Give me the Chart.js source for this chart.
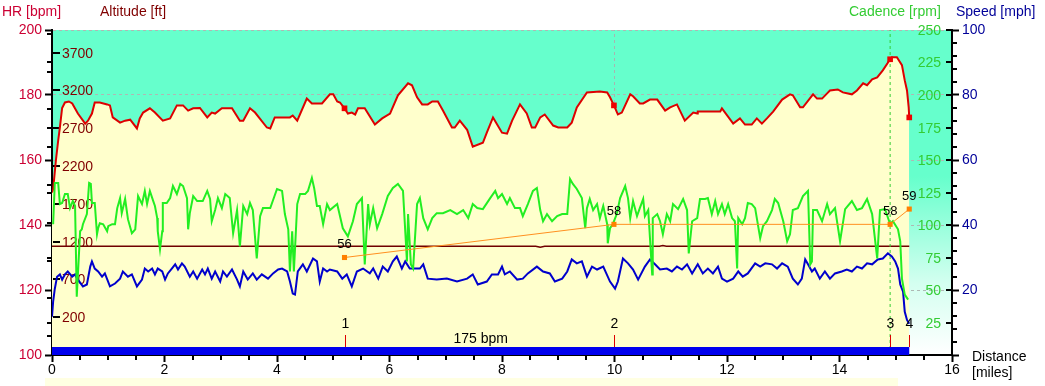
<!DOCTYPE html>
<html><head><meta charset="utf-8">
<script src="https://cdn.jsdelivr.net/npm/chart.js@4.4.1/dist/chart.umd.min.js"></script>
<style>html,body{margin:0;padding:0;background:#fff;overflow:hidden}canvas{display:block}</style>
</head><body>
<canvas id="c" width="1045" height="386" style="width:1045px;height:386px"></canvas>
<script>
// ---------------- DATA ----------------
const hrDist = [0,0.02,0.07,0.11,0.14,0.18,0.23,0.30,0.36,0.46,
0.59,0.64,0.71,0.76,0.85,0.98,1.03,1.08,1.21,1.30,
1.39,1.51,1.56,1.62,1.74,1.83,1.97,2.10,2.22,2.33,
2.42,2.51,2.63,2.76,2.84,2.90,3.02,3.20,3.34,3.40,
3.52,3.61,3.82,3.88,3.96,4.23,4.28,4.36,4.53,4.62,
4.80,4.94,5.00,5.07,5.12,5.20,5.26,5.33,5.39,5.44,
5.56,5.74,5.87,6.01,6.04,6.15,6.33,6.40,6.49,6.58,
6.68,6.76,6.86,6.95,7.11,7.16,7.25,7.38,7.48,7.66,
7.73,7.84,8.00,8.09,8.18,8.32,8.44,8.53,8.59,8.68,
8.76,8.91,9.00,9.16,9.24,9.33,9.51,9.74,9.87,9.92,
9.99,10.06,10.13,10.28,10.33,10.45,10.51,10.63,10.76,10.90,
10.99,11.11,11.25,11.40,11.47,11.48,11.88,11.91,12.11,12.23,
12.32,12.44,12.53,12.62,12.71,12.82,12.98,13.12,13.17,13.30,
13.35,13.53,13.60,13.69,13.78,13.83,13.97,14.06,14.22,14.31,
14.42,14.49,14.58,14.67,14.77,14.90,14.93,15.02,15.11,15.16,
15.20,15.23,15.24];
const hrBpm = [150,151,160,166,170,176,177.7,178,177.4,174.3,
171.2,172.1,174.3,177.7,177.7,177.1,176.8,173.1,171.5,172.1,
172.4,169.7,172.8,174.6,175.9,174.6,172.1,172.8,176.8,176.8,
175.2,175.9,176,173.1,174.6,174.3,175.9,175.9,172.1,172.1,
175.9,174.6,170,169.7,173.1,173.1,173.7,172.1,178.9,177.4,
177.4,180.2,180.2,178,177.7,175.9,174.3,174.6,174,175.9,
175.9,170.9,172.8,174.3,175.5,179.9,183.6,183,179.3,177.1,
177.1,178,178,175.2,170,170,172.1,169.3,164.1,165.3,
168.4,173.1,168.4,168.1,172.1,177.1,174.3,170,170,173.1,
174,170.6,170,170,171.5,176.2,180.8,181.1,180.8,179.3,
176.8,174,174.6,180.2,179.6,177.4,177.4,178.6,178.6,175.2,
176.2,177.1,172.1,174.6,174.3,174.9,174.9,175.9,171.2,172.8,
170.9,170.9,172.8,171.2,172.8,174.9,178.6,180.2,179.9,176.2,
176.2,180.2,178.9,178.9,180.5,181.4,181.7,180.8,180.2,181.4,
183.6,183,184.8,185.4,187.6,191,191.6,191.6,189.2,184.5,
181.4,176.2,173.1];

const cadDist = [0.02,0.05,0.11,0.14,0.18,0.23,0.28,0.32,0.37,0.41,
0.44,0.50,0.53,0.55,0.62,0.66,0.69,0.71,0.76,0.80,
0.82,0.85,0.91,0.98,1.00,1.07,1.12,1.16,1.21,1.24,
1.30,1.35,1.42,1.48,1.53,1.60,1.65,1.69,1.74,1.80,
1.83,1.87,1.88,1.92,1.96,1.97,2.04,2.10,2.15,2.22,
2.28,2.33,2.40,2.42,2.45,2.51,2.58,2.68,2.76,2.81,
2.84,2.90,2.95,3.02,3.08,3.16,3.22,3.29,3.34,3.40,
3.47,3.52,3.57,3.64,3.70,3.75,3.88,4.00,4.09,4.14,
4.20,4.23,4.27,4.30,4.36,4.41,4.50,4.55,4.62,4.66,
4.71,4.76,4.82,4.89,4.94,5.07,5.17,5.26,5.35,5.42,
5.51,5.56,5.62,5.65,5.71,5.78,5.87,5.97,6.06,6.15,
6.24,6.31,6.33,6.38,6.42,6.49,6.54,6.60,6.68,6.76,
6.84,6.95,7.08,7.20,7.31,7.40,7.48,7.56,7.66,7.79,
7.88,7.93,8.00,8.09,8.14,8.23,8.32,8.37,8.46,8.55,
8.62,8.68,8.73,8.80,8.89,8.98,9.07,9.16,9.21,9.26,
9.33,9.42,9.48,9.51,9.56,9.62,9.69,9.74,9.80,9.87,
9.88,9.92,9.97,10.04,10.10,10.19,10.24,10.28,10.33,10.40,
10.45,10.51,10.54,10.60,10.67,10.68,10.76,10.81,10.86,10.93,
10.99,11.04,11.13,11.22,11.29,11.32,11.38,11.47,11.52,11.61,
11.66,11.73,11.79,11.84,11.91,11.96,12.02,12.09,12.14,12.18,
12.20,12.27,12.32,12.37,12.44,12.50,12.59,12.64,12.71,12.80,
12.85,12.91,13.00,13.07,13.12,13.17,13.26,13.35,13.44,13.48,
13.51,13.53,13.60,13.69,13.78,13.83,13.92,14.01,14.10,14.22,
14.31,14.40,14.49,14.58,14.67,14.72,14.81,14.90,14.95,15.04,
15.08,15.11,15.16,15.22];
const cadRpm = [100.6,132.4,132.4,116.1,116.9,123.8,123.8,113.0,118.4,114.6,
44.9,95.2,96.7,100.6,108.4,132.4,131.6,116.9,116.9,92.9,
97.5,101.4,100.6,95.2,99.1,100.6,100.6,113.0,120.7,109.1,
120.0,104.5,93.7,96.7,122.3,116.1,126.2,116.1,126.2,118.4,
114.6,105.3,95.2,81.3,95.2,116.9,116.9,120.7,130.0,123.8,
131.6,130.0,120.7,96.7,109.1,122.3,118.4,118.4,126.2,120.0,
102.9,111.5,120.7,113.0,123.8,120.7,93.7,111.5,83.6,114.6,
108.4,116.9,111.5,74.3,106.8,113.0,113.0,127.7,126.2,108.4,
96.7,64.2,95.2,64.2,116.1,123.8,123.8,126.2,136.2,128.5,
114.6,114.6,100.6,116.1,111.5,116.1,97.5,91.3,102.9,116.1,
120.7,69.7,116.1,100.6,113.0,97.5,108.4,122.3,128.5,131.6,
126.2,72.0,108.4,69.7,66.6,116.1,120.7,105.3,96.7,105.3,
109.1,109.1,111.5,108.4,111.5,105.3,116.1,113.0,112.2,120.7,
126.2,120.7,123.8,116.1,120.7,113.0,113.0,106.8,116.1,126.2,
128.5,111.5,102.9,108.4,102.9,106.8,108.4,108.4,135.4,131.6,
127.7,120.7,97.5,113.0,120.0,111.5,116.1,105.3,114.6,100.6,
85.9,97.5,100.6,108.4,120.7,130.0,120.7,105.3,118.4,106.8,
113.0,120.0,106.8,111.5,61.9,105.3,108.4,102.9,92.9,108.4,
102.9,116.1,112.2,120.0,111.5,78.2,102.9,105.3,120.0,120.0,
120.7,108.4,118.4,108.4,116.1,108.4,116.1,105.3,102.9,66.6,
105.3,100.6,105.3,116.9,116.1,113.0,89.8,99.1,102.9,111.5,
120.0,116.9,102.9,87.5,92.9,111.5,113.0,122.3,126.2,69.7,
72.0,111.5,111.5,102.9,116.1,108.4,113.0,87.5,112.2,118.4,
111.5,113.0,120.0,108.4,74.3,111.5,112.2,100.6,102.9,96.7,
87.5,58.8,46.4,42.6];

const spdDist = [0,0.02,0.05,0.09,0.14,0.18,0.23,0.28,0.36,0.41,
0.46,0.55,0.62,0.68,0.71,0.76,0.82,0.89,0.94,1.03,
1.12,1.21,1.26,1.35,1.42,1.51,1.60,1.65,1.71,1.78,
1.83,1.88,1.96,2.01,2.06,2.13,2.19,2.24,2.31,2.36,
2.45,2.51,2.58,2.67,2.72,2.77,2.84,2.90,2.99,3.04,
3.11,3.20,3.29,3.34,3.40,3.48,3.57,3.64,3.73,3.84,
3.93,4.02,4.09,4.18,4.23,4.28,4.32,4.37,4.46,4.53,
4.64,4.71,4.76,4.82,4.89,4.94,5.07,5.16,5.24,5.33,
5.42,5.53,5.65,5.71,5.80,5.88,5.97,6.06,6.13,6.22,
6.28,6.36,6.54,6.60,6.68,6.84,7.02,7.20,7.38,7.48,
7.57,7.73,7.82,7.93,8.00,8.05,8.14,8.27,8.37,8.46,
8.62,8.73,8.85,8.94,9.07,9.16,9.24,9.33,9.42,9.51,
9.60,9.69,9.80,9.92,10.01,10.06,10.15,10.24,10.33,10.42,
10.54,10.63,10.72,10.81,10.93,11.02,11.11,11.20,11.29,11.38,
11.48,11.57,11.66,11.75,11.84,11.91,12.00,12.11,12.20,12.28,
12.37,12.50,12.59,12.68,12.80,12.89,12.98,13.08,13.17,13.26,
13.33,13.39,13.44,13.51,13.56,13.65,13.74,13.83,13.92,14.04,
14.13,14.22,14.31,14.40,14.49,14.58,14.68,14.77,14.86,14.93,
14.99,15.04,15.08,15.13,15.16,15.20,15.24];
const spdMph = [11.8,16.4,20.4,24.1,24.8,23.2,24.8,25.7,24.1,24.8,
23.2,21.1,21.7,27.2,28.8,26.6,25.7,24.1,25.1,21.1,
22.0,23.5,25.7,24.1,24.8,21.1,23.2,26.6,25.7,26.6,
24.8,26.6,25.7,23.2,25.1,26.6,27.9,26.3,28.2,27.2,
24.1,25.7,23.5,26.3,24.8,26.6,23.5,25.7,22.6,25.7,
24.1,26.3,23.2,21.1,25.7,23.2,25.1,23.2,24.8,23.5,
25.1,26.3,26.6,25.7,22.6,18.9,18.6,25.7,27.9,25.7,
29.7,28.8,22.6,26.6,25.7,26.3,25.7,23.5,24.8,21.1,
25.7,26.6,25.1,26.6,23.5,27.2,25.7,28.8,30.3,26.6,
28.8,26.6,26.6,27.9,23.5,23.2,23.5,22.6,23.5,24.8,
21.7,22.6,24.8,24.8,27.2,24.8,25.7,23.2,23.5,25.1,
27.2,25.7,25.1,22.6,23.5,25.7,29.4,28.2,28.8,24.1,
27.2,26.3,27.2,22.6,20.4,22.6,29.7,28.2,26.3,23.2,
27.2,29.4,27.9,26.3,26.6,25.7,27.2,26.3,27.9,25.1,
27.9,25.1,26.6,25.1,27.2,23.5,22.6,23.5,25.7,24.1,
25.1,28.2,27.2,28.2,27.9,26.6,28.2,27.2,23.5,21.7,
23.5,29.4,27.9,25.7,26.6,23.5,25.7,23.5,25.1,25.7,
26.3,25.7,27.2,26.6,28.2,27.9,29.4,29.7,31.3,30.3,
28.8,26.6,21.7,19.5,13.3,10.8,9.6];

const altDist = [0, 8.60, 8.68, 8.76, 10.80, 10.86, 10.92, 15.24];
const altFt   = [1140, 1140, 1125, 1140, 1140, 1150, 1140, 1140];

const lapDist   = [5.20, 9.99, 14.90, 15.24];
const lapHr     = [175.9, 176.8, 191.0, 173.1];
const lapLabels = ['1', '2', '3', '4'];

const recDist   = [5.20, 9.99, 14.90, 15.24];
const recVal    = [130.0, 140.2, 140.2, 144.9];
const recLabels = ['56', '58', '58', '59'];

const avgHrText   = '175 bpm';
const cursorDist  = 14.90;
const cursor2Dist = 10.0;

const xTickStep = 2, xMinorStep = 0.5;
const hrTickStep = 20, hrMinorStep = 10;
const altTickValues   = [200, 700, 1200, 1700, 2200, 2700, 3200, 3700];
const altMinorValues  = [-50, 450, 950, 1450, 1950, 2450, 2950, 3450, 3950];
const cadTickValues   = [25, 50, 75, 100, 125, 150, 175, 200, 225, 250];
const spdTickStep = 20, spdMinorStep = 4;

// ---------------- CHART ----------------
Chart.defaults.font.family = "'Liberation Sans', Arial, Helvetica, sans-serif";
Chart.defaults.font.size = 14;
Chart.defaults.color = '#000';

const pts = (xs, ys) => xs.map((x, i) => ({x, y: ys[i]}));
const FONT = "14px 'Liberation Sans', Arial, sans-serif";

const ORANGE_IDX = 8;

const decor = {
  id: 'decor',
  beforeDraw(chart) {
    const {ctx, chartArea: a} = chart;
    ctx.save();
    ctx.fillStyle = '#fff';
    ctx.fillRect(0, 0, chart.width, chart.height);
    const g = ctx.createLinearGradient(0, a.top, 0, a.bottom);
    g.addColorStop(0, '#66FFCC');
    g.addColorStop(0.45, '#66FFCC');
    g.addColorStop(0.78, '#D4FFF0');
    g.addColorStop(1, '#FFFFFF');
    ctx.fillStyle = g;
    ctx.fillRect(a.left, a.top, a.right - a.left, a.bottom - a.top);
    ctx.fillStyle = '#FFFFE2';
    ctx.fillRect(45, 378, 853, 8);
    ctx.restore();
  },
  afterDatasetDraw(chart, args) {
    if (args.index !== 1) return;   // right after the HR fill
    const {ctx, chartArea: a, scales: {yAlt}} = chart;
    ctx.save();
    ctx.font = FONT; ctx.fillStyle = '#800000';
    ctx.textAlign = 'left'; ctx.textBaseline = 'middle';
    ctx.strokeStyle = '#000'; ctx.lineWidth = 2;
    altTickValues.forEach(v => {
      const py = Math.round(yAlt.getPixelForValue(v));
      ctx.beginPath(); ctx.moveTo(a.left + 1, py); ctx.lineTo(a.left + 8, py); ctx.stroke();
      ctx.fillText(String(v), a.left + 10, py + 1);
    });
    ctx.restore();
  },
  afterDatasetsDraw(chart) {
    const {ctx, chartArea: a, scales: {x}} = chart;
    ctx.save();
    const x0 = x.getPixelForValue(0), x1 = x.getPixelForValue(lapDist[lapDist.length - 1]);
    ctx.fillStyle = '#0000EE';
    ctx.fillRect(x0, a.bottom - 8, x1 - x0, 8);
    ctx.strokeStyle = '#DD0000'; ctx.lineWidth = 1;
    ctx.font = FONT; ctx.fillStyle = '#000';
    ctx.textAlign = 'center'; ctx.textBaseline = 'middle';
    lapDist.forEach((d, i) => {
      const px = Math.round(x.getPixelForValue(d)) + 0.5;
      ctx.beginPath(); ctx.moveTo(px, a.bottom - 20); ctx.lineTo(px, a.bottom - 8); ctx.stroke();
      ctx.fillText(lapLabels[i], px, a.bottom - 31);
    });
    ctx.fillText(avgHrText, (x0 + x1) / 2, a.bottom - 16);
    // orange point labels
    const meta = chart.getDatasetMeta(ORANGE_IDX);
    ctx.font = "13px 'Liberation Sans', Arial, sans-serif";
    meta.data.forEach((p, i) => ctx.fillText(recLabels[i], p.x, p.y - 13));
    ctx.restore();
  },
  afterDraw(chart) {
    const {ctx, chartArea: a, scales: {x, yHR, yAlt, yCad, ySpd}} = chart;
    ctx.save();
    ctx.strokeStyle = '#000'; ctx.lineWidth = 2;
    const seg = (x1, y1, x2, y2) => { ctx.beginPath(); ctx.moveTo(x1, y1); ctx.lineTo(x2, y2); ctx.stroke(); };
    for (let v = xMinorStep; v < 16; v += xMinorStep) {
      if (Math.abs(v / xTickStep - Math.round(v / xTickStep)) < 1e-6) continue;
      const px = Math.round(x.getPixelForValue(v));
      seg(px, a.bottom + 1, px, a.bottom + 5);
    }
    for (let v = 100 + hrMinorStep; v < 200; v += hrTickStep) {
      const py = Math.round(yHR.getPixelForValue(v));
      seg(a.left - 1, py, a.left - 5, py);
    }
    altMinorValues.forEach(v => {
      const py = Math.round(yAlt.getPixelForValue(v));
      seg(a.left - 1, py, a.left - 5, py);
    });
    ctx.font = FONT; ctx.fillStyle = '#33CC33';
    ctx.textAlign = 'right'; ctx.textBaseline = 'middle';
    cadTickValues.forEach(v => {
      const py = Math.round(yCad.getPixelForValue(v));
      seg(a.right - 1, py, a.right - 6, py);
      ctx.fillText(String(v), a.right - 11, py + 1);
    });
    for (let v = spdMinorStep; v < 100; v += spdMinorStep) {
      if (v % spdTickStep === 0) continue;
      const py = Math.round(ySpd.getPixelForValue(v));
      seg(a.right + 1, py, a.right + 5, py);
    }
    // titles
    ctx.textAlign = 'left'; ctx.textBaseline = 'middle';
    ctx.fillStyle = '#CC0033'; ctx.fillText('HR [bpm]', 2, 12);
    ctx.fillStyle = '#800000'; ctx.fillText('Altitude [ft]', 100, 12);
    ctx.fillStyle = '#33CC33'; ctx.fillText('Cadence [rpm]', 849, 12);
    ctx.fillStyle = '#000099'; ctx.fillText('Speed [mph]', 956, 12);
    ctx.fillStyle = '#000';
    ctx.fillText('Distance', 972, 357);
    ctx.fillText('[miles]', 972, 373);
    ctx.restore();
  }
};

new Chart(document.getElementById('c'), {
  type: 'line',
  data: {
    datasets: [
      { label: 'cursor2', data: pts([cursor2Dist, cursor2Dist], [100, 200]), yAxisID: 'yHR',
        borderColor: '#A8B4B0', borderWidth: 1, borderDash: [3, 3], pointRadius: 0, order: 20 },
      { label: 'HR fill', data: pts(hrDist, hrBpm), yAxisID: 'yHR', fill: 'start',
        backgroundColor: '#FFFFCC', borderColor: 'rgba(0,0,0,0)', borderWidth: 0, pointRadius: 0, order: 15 },
      { label: 'Altitude', data: pts(altDist, altFt), yAxisID: 'yAlt',
        borderColor: '#700000', borderWidth: 1.5, pointRadius: 0, order: 9 },
      { label: 'cursor', data: pts([cursorDist, cursorDist], [100, 200]), yAxisID: 'yHR',
        borderColor: '#33CC33', borderWidth: 1, borderDash: [3, 3], pointRadius: 0, order: 8 },
      { label: 'HR', data: pts(hrDist, hrBpm), yAxisID: 'yHR',
        borderColor: '#DD0000', borderWidth: 2, pointRadius: 0, order: 7 },
      { label: 'Speed', data: pts(spdDist, spdMph), yAxisID: 'ySpd',
        borderColor: '#0000CC', borderWidth: 2, pointRadius: 0, order: 5 },
      { label: 'Cadence', data: pts(cadDist, cadRpm), yAxisID: 'yCad',
        borderColor: '#22EE22', borderWidth: 2, pointRadius: 0, order: 4 },
      { label: 'Laps', data: pts(lapDist, lapHr), yAxisID: 'yHR', showLine: false,
        pointStyle: 'rect', pointRadius: 4, pointBackgroundColor: '#EE0000', pointBorderWidth: 0, order: 2 },
      { label: 'Rec', data: pts(recDist, recVal), yAxisID: 'yHR',
        borderColor: '#FF9020', borderWidth: 1, pointStyle: 'rect', pointRadius: 3.6,
        pointBackgroundColor: '#FF8000', pointBorderWidth: 0, order: 3 }
    ]
  },
  options: {
    responsive: false, animation: false, devicePixelRatio: 1, events: [],
    layout: { padding: { top: 30, left: 0, right: 0, bottom: 0 } },
    plugins: { legend: { display: false }, tooltip: { enabled: false }, title: { display: false } },
    elements: { line: { tension: 0 } },
    scales: {
      x: { type: 'linear', position: 'bottom', min: 0, max: 16,
        ticks: { stepSize: xTickStep, color: '#000', padding: 0, maxRotation: 0, autoSkip: false },
        grid: { drawOnChartArea: false, drawTicks: true, tickLength: 7, tickColor: '#000', tickWidth: 2 },
        border: { color: '#000', width: 2 },
        afterFit(s) { s.height = 31; } },
      yHR: { type: 'linear', position: 'left', min: 100, max: 200,
        ticks: { stepSize: hrTickStep, color: '#CC0033', padding: 3 },
        grid: { color: '#AEB8B4', lineWidth: 1, tickLength: 7, tickColor: '#000', tickWidth: 2 },
        border: { color: '#000', width: 2, dash: [3, 3] },
        afterFit(s) { s.width = 52; } },
      ySpd: { type: 'linear', position: 'right', min: 0, max: 100,
        ticks: { stepSize: spdTickStep, color: '#000099', padding: 3, callback: v => v === 0 ? '' : v },
        grid: { drawOnChartArea: false, tickLength: 7, tickColor: '#000', tickWidth: 2 },
        border: { color: '#000', width: 2 },
        afterFit(s) { s.width = 93; } },
      yCad: { type: 'linear', display: false, min: 0, max: 250 },
      yAlt: { type: 'linear', display: false, min: -300, max: 4000 }
    }
  },
  plugins: [decor]
});
</script>
</body></html>
